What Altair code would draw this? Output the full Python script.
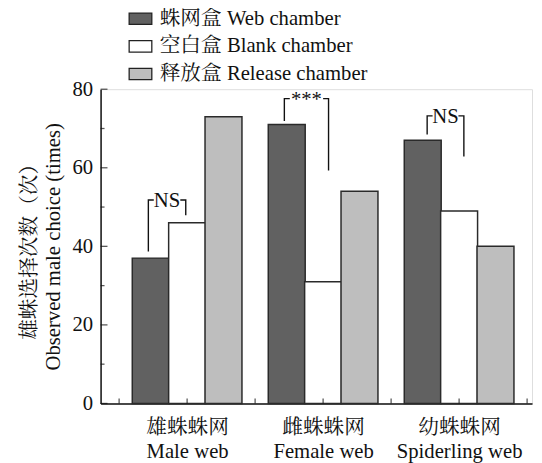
import altair as alt
import pandas as pd

# ---- data ----
groups_cn = ["雄蛛蛛网", "雌蛛蛛网", "幼蛛蛛网"]
groups_en = ["Male web", "Female web", "Spiderling web"]
series = ["蛛网盒 Web chamber", "空白盒 Blank chamber", "释放盒 Release chamber"]
colors = ["#616161", "#ffffff", "#bebebe"]
web_vals = [37, 71, 67]
blank_vals = [46, 31, 49]
release_vals = [73, 54, 40]

group_pos = [2, 4, 6]          # x position of each group centre
bar_step = 0.535               # distance between bars inside a group (x units)

# significance brackets
br_left_x = [1.43, 3.43, 5.53]
br_right_x = [1.98, 4.08, 6.07]
br_left_low = [38.7, 71.9, 68.5]
br_top = [51.8, 77.6, 73.2]
br_right_low = [47.9, 59.3, 62.9]
br_label = ["NS", "***", "NS"]

y_major = [0, 20, 40, 60, 80]
y_minor = [10, 30, 50, 70]
x_ticks = [1, 2, 3, 4, 5, 6, 7]

FONT = "Liberation Serif, Times New Roman, Noto Serif CJK SC, Noto Sans CJK SC"
FS = 21
W, H = 438, 319

# ---- tables ----
rows = []
for gi, g in enumerate(groups_en):
    for si, (s, vals) in enumerate(zip(series, [web_vals, blank_vals, release_vals])):
        rows.append({"group": g, "series": s, "order": si, "value": vals[gi],
                     "pos": group_pos[gi] + (si - 1) * bar_step})
bars_df = pd.DataFrame(rows)

d = 0.08
line_rows = []
for i in range(len(br_label)):
    segL = [(br_left_x[i], br_left_low[i]), (br_left_x[i], br_top[i]), (br_left_x[i] + d, br_top[i])]
    segR = [(br_right_x[i] - d, br_top[i]), (br_right_x[i], br_top[i]), (br_right_x[i], br_right_low[i])]
    for sname, seg in (("L", segL), ("R", segR)):
        for k, (x, y) in enumerate(seg):
            line_rows.append({"seg": f"{i}{sname}", "k": k, "x": x, "y": y})
lines_df = pd.DataFrame(line_rows)
text_df = pd.DataFrame({"x": [(a + b) / 2 for a, b in zip(br_left_x, br_right_x)],
                        "y": br_top, "label": br_label})

x_scale = alt.Scale(domain=[0.8, 7], nice=False, zero=False)
y_scale = alt.Scale(domain=[0, 80], nice=False)

label_expr = " : ".join(
    f"datum.value == {p} ? ['{c}', '{e}']" for p, c, e in zip(group_pos, groups_cn, groups_en)
) + " : ''"

bars = alt.Chart(bars_df).mark_bar(size=37.5, stroke="#2a2a2a", strokeWidth=1.5).encode(
    x=alt.X("pos:Q", scale=x_scale,
            axis=alt.Axis(values=group_pos, labelExpr=label_expr, ticks=False, grid=False,
                          title=None, labelFontSize=FS, labelFont=FONT, labelColor="#111",
                          labelLineHeight=24, labelPadding=14, domainColor="#111",
                          domainWidth=1.5, labelFlush=False)),
    y=alt.Y("value:Q", scale=y_scale,
            axis=alt.Axis(values=y_major, ticks=False, grid=False,
                          title=["雄蛛选择次数（次）", "Observed male choice (times)"],
                          titleFontSize=FS, titleFont=FONT, titleFontWeight="normal",
                          titleColor="#111", titleLineHeight=24, titlePadding=9,
                          labelFontSize=FS, labelFont=FONT, labelColor="#111",
                          labelPadding=8, domainColor="#111", domainWidth=1.5)),
    color=alt.Color("series:N", sort=series,
                    scale=alt.Scale(domain=series, range=colors),
                    legend=alt.Legend(title=None, orient="none", legendX=28, legendY=-84,
                                      symbolType="M-1,-0.5H1V0.5H-1Z", symbolSize=529,
                                      symbolStrokeColor="#222", symbolStrokeWidth=1.3,
                                      labelFontSize=FS, labelFont=FONT, labelColor="#111",
                                      labelOffset=7, rowPadding=5, labelLimit=0)),
    order=alt.Order("order:Q"),
)

xt = alt.Chart(pd.DataFrame({"t": x_ticks})).mark_tick(
    orient="vertical", size=5, thickness=1.3, color="#111").encode(
    x=alt.X("t:Q", scale=x_scale), y=alt.value(H - 2.5))
ymaj = alt.Chart(pd.DataFrame({"t": y_major})).mark_tick(
    orient="horizontal", size=7, thickness=1.3, color="#111").encode(
    y=alt.Y("t:Q", scale=y_scale), x=alt.value(3.5))
ymin = alt.Chart(pd.DataFrame({"t": y_minor})).mark_tick(
    orient="horizontal", size=4, thickness=1.3, color="#111").encode(
    y=alt.Y("t:Q", scale=y_scale), x=alt.value(2))

brackets = alt.Chart(lines_df).mark_line(color="#111", strokeWidth=1.4).encode(
    x=alt.X("x:Q", scale=x_scale), y=alt.Y("y:Q", scale=y_scale),
    detail="seg:N", order="k:Q")
btext = alt.Chart(text_df).mark_text(fontSize=FS, font=FONT, color="#111",
                                     baseline="middle", dy=1).encode(
    x=alt.X("x:Q", scale=x_scale), y=alt.Y("y:Q", scale=y_scale), text="label:N")

chart = alt.layer(bars, xt, ymaj, ymin, brackets, btext).properties(
    width=W, height=H,
    autosize=alt.AutoSizeParams(type="none"),
    padding={"left": 94, "top": 79, "right": 2, "bottom": 57},
).configure_view(stroke=None).configure(background="white")

chart.save("out.html", embed_options={"renderer": "svg", "actions": False})
